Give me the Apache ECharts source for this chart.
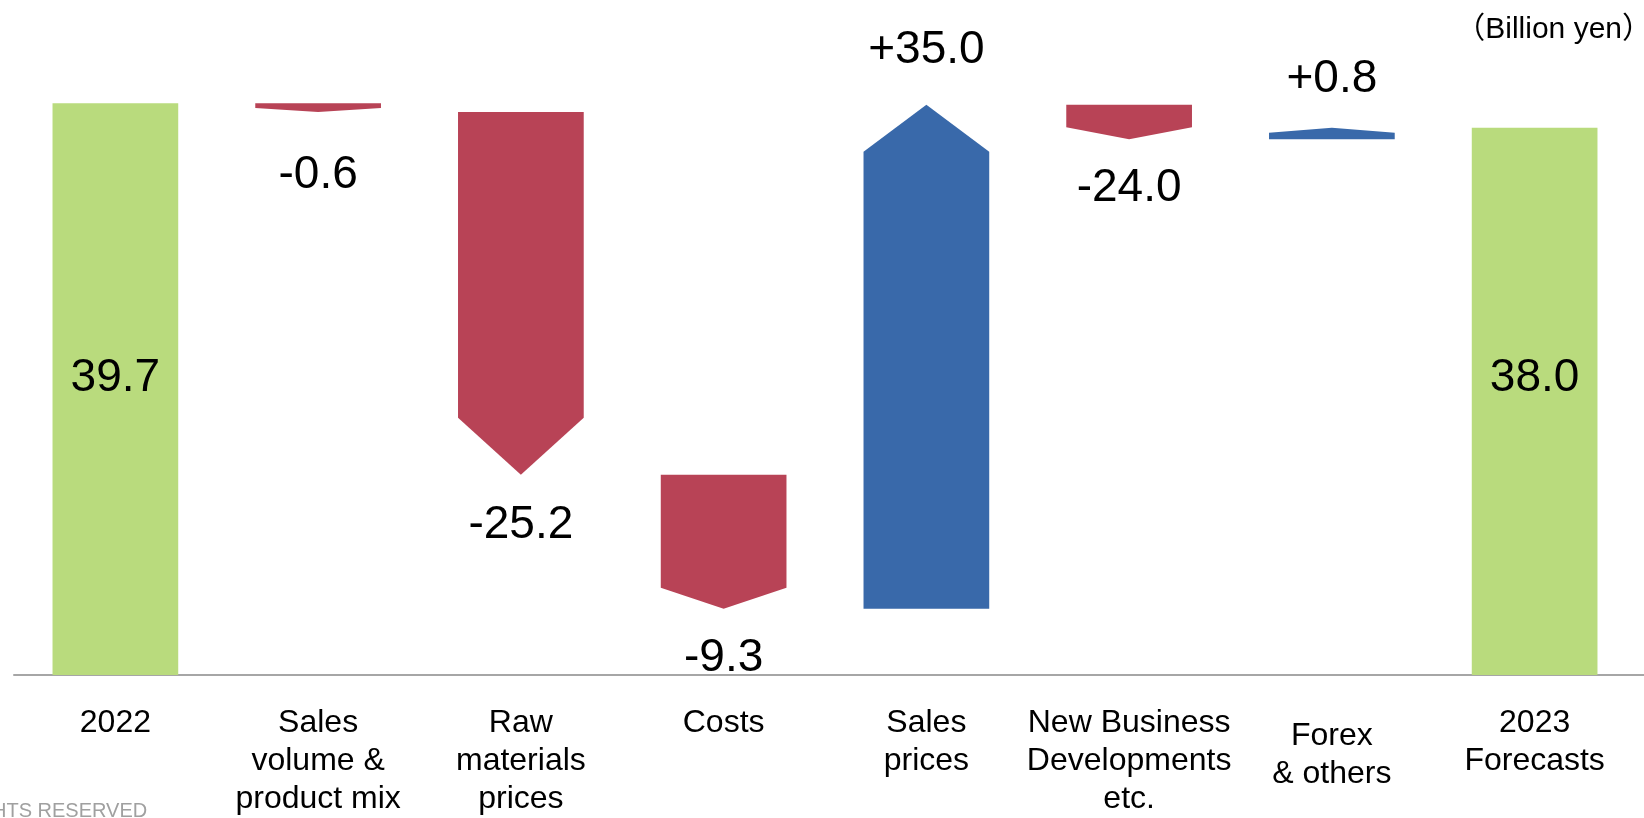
<!DOCTYPE html>
<html lang="en">
<head>
    <meta charset="UTF-8">
    <title>Operating income change</title>
    <script src="https://cdn.jsdelivr.net/npm/echarts@6/dist/echarts.min.js"></script>
    <style>
        html, body { margin: 0; padding: 0; background: #fff; }
        #main { width: 1644px; height: 818px; }
    </style>
</head>
<body>
    <div id="main"></div>
    <script>
        // data (billion yen)
        var categories = ['2022', 'Sales\nvolume &\nproduct mix', 'Raw\nmaterials\nprices', 'Costs',
            'Sales\nprices', 'New Business\nDevelopments\netc.', 'Forex\n& others', '2023\nForecasts'];
        var startValue = 39.7;
        var changes = [-0.6, -25.2, -9.3, 35.0, -2.4, 0.8];
        var endValue = 38.0;
        // labels as printed on the slide
        var valueLabels = ['39.7', '-0.6', '-25.2', '-9.3', '+35.0', '-24.0', '+0.8', '38.0'];

        // arrow head depth and label gap in px for each bar (shape style)
        var tipDepth = [0, 4, 57, 21, 47, 12, 5, 0];
        var labelGap = [0, 63, 50, 50, 54, 49, 48, 0];

        var GREEN = '#b9db7d', RED = '#b84356', BLUE = '#3969aa';
        var FONT = '"Liberation Sans", Arial, "Noto Sans CJK JP", sans-serif';

        // build [index, from, to, kind]  kind: 0 total, 1 down, 2 up
        var rows = [[0, 0, startValue, 0]];
        var level = startValue;
        for (var i = 0; i < changes.length; i++) {
            var next = +(level + changes[i]).toFixed(2);
            rows.push([i + 1, level, next, changes[i] < 0 ? 1 : 2]);
            level = next;
        }
        rows.push([categories.length - 1, 0, endValue, 0]);

        var TOTAL_LABEL_LEVEL = 20.6;

        function renderItem(params, api) {
            var idx = api.value(0);
            var kind = api.value(3);
            var a = api.coord([idx, api.value(1)]);
            var b = api.coord([idx, api.value(2)]);
            var w = api.size([1, 0])[0] * 0.62;
            var cx = a[0], xl = cx - w / 2, xr = cx + w / 2;
            var y0 = a[1], y1 = b[1];
            var color, pts, ly;
            var d = tipDepth[idx];
            if (kind === 0) {
                color = GREEN;
                pts = [[xl, y0], [xr, y0], [xr, y1], [xl, y1]];
                ly = api.coord([idx, TOTAL_LABEL_LEVEL])[1];
            } else if (kind === 1) {
                color = RED;
                pts = [[xl, y0], [xr, y0], [xr, y1 - d], [cx, y1], [xl, y1 - d]];
                ly = y1 + labelGap[idx];
            } else {
                color = BLUE;
                pts = [[xl, y0], [xr, y0], [xr, y1 + d], [cx, y1], [xl, y1 + d]];
                ly = y1 - labelGap[idx];
            }
            return {
                type: 'group',
                children: [{
                    type: 'polygon',
                    shape: { points: pts },
                    style: { fill: color }
                }, {
                    type: 'text',
                    x: cx,
                    y: ly,
                    style: {
                        text: valueLabels[idx],
                        fill: '#000',
                        font: '46px ' + FONT,
                        align: 'center',
                        verticalAlign: 'middle'
                    }
                }]
            };
        }

        var catData = categories.map(function (c, k) {
            if (k === 6) return { value: c, textStyle: { padding: [13, 0, 0, 0] } };
            return c;
        });

        var chart = echarts.init(document.getElementById('main'));
        chart.setOption({
            animation: false,
            grid: { left: 14, right: 8, top: 27, bottom: 142 },
            xAxis: {
                type: 'category',
                data: catData,
                axisTick: { show: false },
                axisLine: { lineStyle: { color: '#a6a6a6', width: 2 } },
                axisLabel: {
                    interval: 0,
                    color: '#000',
                    fontFamily: FONT,
                    fontSize: 32,
                    lineHeight: 38,
                    margin: 29
                }
            },
            yAxis: {
                type: 'value',
                min: 0,
                max: 45,
                show: false
            },
            series: [{
                type: 'custom',
                renderItem: renderItem,
                encode: { x: 0, y: [1, 2] },
                data: rows
            }],
            graphic: [{
                type: 'line',
                shape: { x1: 1634, y1: 675, x2: 1644, y2: 675 },
                style: { stroke: '#a6a6a6', lineWidth: 2 }
            }, {
                type: 'text',
                right: -8,
                top: 15,
                style: {
                    text: '（Billion yen）',
                    fill: '#000',
                    font: '30px ' + FONT
                }
            }, {
                type: 'text',
                left: -8,
                top: 801,
                style: {
                    text: 'HTS RESERVED',
                    fill: '#a0a0a0',
                    font: '20px ' + FONT
                }
            }]
        });
    </script>
</body>
</html>
